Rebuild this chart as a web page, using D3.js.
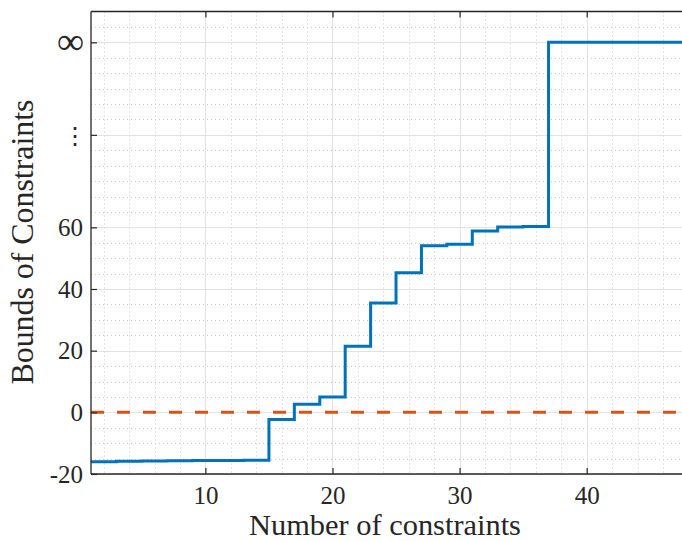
<!DOCTYPE html>
<html>
<head>
<meta charset="utf-8">
<script src="https://cdn.jsdelivr.net/npm/d3@7"></script>
<style>
  html, body { margin: 0; padding: 0; background: #ffffff; }
  svg { display: block; }
</style>
</head>
<body>
<svg id="chart" width="682" height="541"></svg>
<script>
// ---- data ----
const stepX      = [1, 3, 5, 7, 9, 11, 13, 15, 17, 19, 21, 23, 25, 27, 29, 31, 33, 35, 37, 49];
const stepValues = [-16.0, -15.9, -15.8, -15.7, -15.6, -15.6, -15.5, -2.3, 2.6, 5.0, 21.4, 35.5, 45.3, 54.0, 54.5, 58.8, 60.1, 60.3, 120, 120];
const zeroLine   = [0];
const xTicks     = [10, 20, 30, 40];
const yTicks      = [-20, 0, 20, 40, 60, 90, 120];
const yTickLabels = ["-20", "0", "20", "40", "60", "\u22EE", "\u221E"];
const xLabel = "Number of constraints";
const yLabel = "Bounds of Constraints";

(function () {
// ---- layout ----
const pL = 91, pR = 682, pT = 11.5, pB = 474;
const svg = d3.select("#chart");
const font = "'Liberation Serif', 'DejaVu Serif', serif";

const x = d3.scaleLinear().domain([1, 47.5]).range([pL, pR]);
const y = d3.scaleLinear().domain([-20, 130]).range([pB, pT]);

svg.append("defs").append("clipPath").attr("id", "clip")
  .append("rect").attr("x", pL).attr("y", pT).attr("width", pR - pL).attr("height", pB - pT);

const grid = svg.append("g");
// minor grid (dotted)
const xMinor = d3.range(2, 48, 2).filter(v => !xTicks.includes(v));
const yMinor = d3.range(-15, 131, 5).filter(v => !yTicks.includes(v) && v < 130);
grid.selectAll(".xm").data(xMinor).join("line")
  .attr("x1", d => Math.round(x(d)) + 0.5).attr("x2", d => Math.round(x(d)) + 0.5)
  .attr("y1", pT).attr("y2", pB)
  .attr("stroke", "#c8c8c8").attr("stroke-width", 1).attr("stroke-dasharray", "1,3");
grid.selectAll(".ym").data(yMinor).join("line")
  .attr("y1", d => Math.round(y(d)) + 0.5).attr("y2", d => Math.round(y(d)) + 0.5)
  .attr("x1", pL).attr("x2", pR)
  .attr("stroke", "#c8c8c8").attr("stroke-width", 1).attr("stroke-dasharray", "1,3");
// major grid
grid.selectAll(".xM").data(xTicks).join("line")
  .attr("x1", d => Math.round(x(d)) + 0.5).attr("x2", d => Math.round(x(d)) + 0.5)
  .attr("y1", pT).attr("y2", pB)
  .attr("stroke", "#e2e2e2").attr("stroke-width", 1);
grid.selectAll(".yM").data(yTicks).join("line")
  .attr("y1", d => Math.round(y(d)) + 0.5).attr("y2", d => Math.round(y(d)) + 0.5)
  .attr("x1", pL).attr("x2", pR)
  .attr("stroke", "#e2e2e2").attr("stroke-width", 1);

// data lines
const plot = svg.append("g").attr("clip-path", "url(#clip)");
const pts = stepX.map((v, i) => [v, stepValues[i]]);
plot.append("path").datum(pts)
  .attr("fill", "none").attr("stroke", "#0072BD").attr("stroke-width", 3)
  .attr("d", d3.line().x(d => x(d[0])).y(d => y(d[1])).curve(d3.curveStepAfter));

plot.selectAll(".zero").data(zeroLine).join("line")
  .attr("x1", pL).attr("x2", pR)
  .attr("y1", d => y(d)).attr("y2", d => y(d))
  .attr("stroke", "#D95319").attr("stroke-width", 3).attr("stroke-dasharray", "13,13");

// axes
const axisColor = "#262626";
const xAxisB = svg.append("g").attr("transform", `translate(0,${pB})`)
  .call(d3.axisBottom(x).tickValues(xTicks).tickSize(-6).tickPadding(12).tickFormat(d3.format("d")));
const xAxisT = svg.append("g").attr("transform", `translate(0,${pT})`)
  .call(d3.axisTop(x).tickValues(xTicks).tickSize(-6).tickFormat(""));
const yAxisL = svg.append("g").attr("transform", `translate(${pL},0)`)
  .call(d3.axisLeft(y).tickValues(yTicks).tickSize(-6).tickPadding(8)
        .tickFormat((d, i) => yTickLabels[i]));

[xAxisB, xAxisT, yAxisL].forEach(g => {
  g.select(".domain").attr("stroke", axisColor).attr("stroke-width", 1.3);
  g.selectAll(".tick line").attr("stroke", axisColor).attr("stroke-width", 1.2);
  g.selectAll("text").attr("fill", axisColor).attr("font-family", font).attr("font-size", 25);
});
xAxisB.select(".domain").attr("d", `M${pL},0H${pR}`);
xAxisT.select(".domain").attr("d", `M${pL},0H${pR}`);
yAxisL.select(".domain").attr("d", `M0,${pB}V${pT}`);

xAxisB.selectAll("text").attr("dy", "0.71em");
yAxisL.selectAll(".tick text").filter((d, i) => i === 6)
  .attr("font-size", 38).attr("dy", "0.3em").attr("dx", "1");
yAxisL.selectAll(".tick text").filter((d, i) => i === 5)
  .attr("font-size", 24).attr("font-family", "'DejaVu Serif', serif").attr("dy", "0.36em").attr("dx", "4");

// axis labels
const xl = svg.append("text").text(xLabel)
  .attr("x", 385).attr("y", 535).attr("text-anchor", "middle")
  .attr("font-family", font).attr("font-size", 26).attr("fill", axisColor);
const yl = svg.append("text").text(yLabel)
  .attr("transform", `translate(33,242) rotate(-90)`).attr("text-anchor", "middle")
  .attr("font-family", font).attr("font-size", 26).attr("fill", axisColor);
const fit = (sel, target) => {
  const w = sel.node().getComputedTextLength();
  if (w > 0) sel.attr("font-size", 26 * target / w);
};
fit(xl, 272);
fit(yl, 285);
})();
</script>
</body>
</html>
